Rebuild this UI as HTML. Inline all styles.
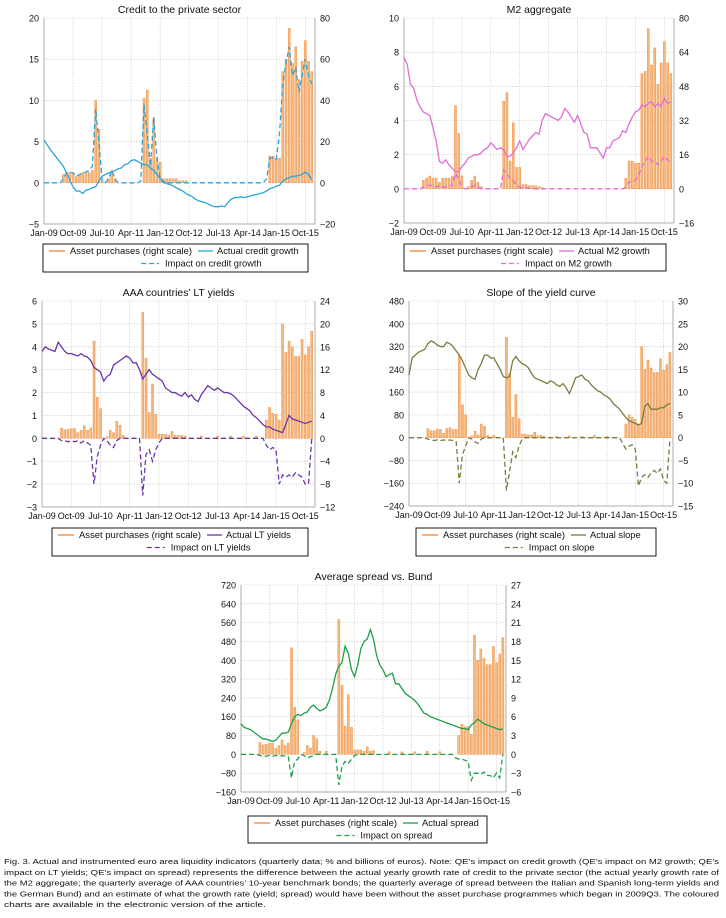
<!DOCTYPE html>
<html><head><meta charset="utf-8"><style>
html,body{margin:0;padding:0;background:#fff;}
svg{display:block;font-family:"Liberation Sans",sans-serif;}
</style></head><body>
<svg id="fig" width="726" height="918" viewBox="0 0 726 918" xmlns="http://www.w3.org/2000/svg"></svg>
<script>
// ---- data (monthly, Jan-09 .. Dec-15) ----
const monthLabels = ["Jan-09","Oct-09","Jul-10","Apr-11","Jan-12","Oct-12","Jul-13","Apr-14","Jan-15","Oct-15"];
const labelIdx = [0,9,18,27,36,45,54,63,72,81];

const creditBars = [0,0,0,0,0,0,4,5,5,5, 3,4,5,5,5,6,40,26,1,0, 2,6,2,0,0,0,0,0,0,0, 0,41,45,12,31,12,10,2,2,2, 2,2,1,1,1,0,0,0,0,0, 0,0,0,0,0,0,0,0,0,0, 0,0,0,0,0,0,0,0,0,0, 13,13,12,12,54,60,75,58,66,50, 59,69,59,54];
const creditActual = [5.2,4.6,4.0,3.5,3.0,2.5,2.0,1.2,0.3,-0.5, -1.0,-1.0,-1.3,-0.9,-0.8,-0.6,-0.5,0.2,0.8,1.0, 1.2,1.3,1.5,1.7,1.8,2.2,2.3,2.7,2.8,2.6, 2.4,2.2,2.2,1.8,1.5,1.0,0.5,0.2,-0.1,-0.2, -0.4,-0.6,-0.8,-1.0,-1.3,-1.5,-1.7,-2.0,-2.2,-2.3, -2.4,-2.6,-2.8,-2.9,-2.9,-2.8,-2.9,-2.4,-2.0,-1.8, -1.8,-1.7,-1.8,-1.7,-1.6,-1.5,-1.4,-1.3,-1.2,-1.0, -0.7,-0.6,-0.4,-0.3,0.2,0.5,0.6,0.8,0.8,0.9, 1.0,1.3,1.0,0.4];
const creditImpact = [0,0,0,0,0,0,0.5,1.2,1.3,1.2, 0.8,1.0,1.2,1.3,1.5,2.0,9.0,5.0,0.3,0, 0.5,1.5,0.5,0,0,0,0,0,0,0, 0.2,9.5,6.0,2.0,8.0,3.0,0.5,0,0,0, 0,0,0,0,0,0,0,0,0,0, 0,0,0,0,0,0,0,0,0,0, 0,0,0,0,0,0,0,0,0,0.5, 3.0,3.0,2.8,6.0,12,14.5,16.5,13,14,11, 13,15,13,12];

const m2Bars = [0,0,0,0,0,0,4,5,6,5, 5,3,5,5,5,6,39,26,6,0, 1,4,6,3,1,0,0,0,0,0, 0,41,45,13,31,10,10,2,2,1.5, 1.5,1.5,1,0.5,0,0,0,0,0,0, 0,0,0,0,0,0,0,0,0,0, 0,0,0,0,0,0,0,0,0,5, 13,13,12,12,54,55,75,58,66,49, 59,69,59,54];
const m2Actual = [7.7,7.3,6.1,5.9,5.2,4.8,4.5,4.4,4.3,3.6, 2.8,1.6,1.5,1.7,1.4,1.2,1.0,1.0,1.3,1.5, 1.8,1.9,2.0,2.0,2.1,2.3,2.4,2.7,2.5,2.3, 2.4,2.3,1.9,1.9,2.1,2.4,2.8,2.3,2.6,2.9, 3.1,3.3,3.2,4.0,4.4,4.3,4.2,4.1,4.0,4.2, 4.7,4.5,4.2,3.9,4.3,3.8,3.3,3.2,2.4,2.4, 2.4,2.1,1.8,2.4,2.4,2.8,2.9,3.0,3.4,3.3, 3.8,4.2,4.5,4.6,4.9,4.8,5.0,5.1,4.8,5.0, 4.8,5.3,5.0,5.1];
const m2Impact = [0,0,0,0,0,0,0.1,0.2,0.2,0.2, 0.1,0.2,0.1,0.1,0.2,0.2,0.9,0.6,0.1,0, 0,0.1,0.2,0.1,0,0,0,0,0,0, 0,1.1,0.9,0.6,0.5,0.2,0.1,0.05,0.05,0.05, 0,0,0,0,0,0,0,0,0,0, 0,0,0,0,0,0,0,0,0,0, 0,0,0,0,0,0,0,0,0,0.1, 0.4,0.4,0.5,0.8,1.3,1.6,1.9,1.6,1.6,1.4, 1.6,1.9,1.7,1.5];

const aaaBars = [0,0,0,0,0,0,1.8,1.5,1.6,1.7, 1.7,1,1.4,2.2,1.4,1.8,17,7.2,5.2,0, 0.3,1.4,1,3,2.3,0.5,0,0,0,0, 0,22,14,4.5,9.5,4.2,0.7,0.7,0.7,0.5, 1.2,0.5,0.5,0.5,0.4,0,0,0,0,0.4, 0,0,0,0,0.4,0,0,0,0.4,0, 0,0,0.4,0,0,0,0.4,0,0,3.2, 5.4,4.4,4.2,3.2,20,15,17,16,14.3,14.3, 17.3,14.6,16,18.7];
const aaaActual = [3.8,4.0,3.9,3.85,3.8,4.2,4.0,3.8,3.7,3.7, 3.65,3.6,3.7,3.6,3.55,3.4,3.1,3.0,2.9,2.5, 2.7,2.8,3.2,3.3,3.4,3.5,3.6,3.5,3.3,3.3, 3.0,2.6,2.8,3.0,2.8,2.7,2.6,2.5,2.2,2.1, 2.0,2.0,1.9,1.85,2.0,1.8,1.9,1.7,1.6,1.9, 2.1,2.3,2.2,2.1,2.2,2.1,2.0,2.0,1.95,1.85, 1.7,1.55,1.4,1.3,1.2,1.0,0.9,0.75,0.6,0.5, 0.5,0.4,0.35,0.3,0.25,0.6,1.0,0.85,0.8,0.75, 0.7,0.65,0.7,0.75];
const aaaImpact = [0,0,0,0,0,0,-0.1,-0.1,-0.15,-0.1, -0.15,-0.1,-0.2,-0.1,-0.2,-0.3,-2.0,-0.8,-0.3,0, -0.1,-0.3,-0.4,-0.1,0,0,0,0,0,0, 0,-2.5,-0.7,-0.5,-1.0,-0.5,-0.2,0,0,0, 0,0,0,0,0,0,0,0,0,0, 0,0,0,0,0,0,0,0,0,0, 0,0,0,0,0,0,0,0,0,-0.3, -0.5,-0.4,-0.5,-2.0,-1.6,-1.7,-1.6,-1.7,-1.5,-1.6, -1.7,-2.0,-2.0,0];

const slopeBars = [0,0,0,0,0,0,2,1.5,1.5,1.8, 1.8,1,2,2.2,1.8,1.8,18,7.2,5,0, 0.4,1.4,0.6,3,2.5,0.5,0,0.5,0,0, 0,22,14,4.5,9.5,4.2,0.8,0.8,0.6,0.6, 1.2,0.4,0.5,0.3,0,0,0,0.3,0,0, 0,0.4,0,0,0,0.3,0,0,0,0.5, 0,0,0,0.3,0,0,0,0,0,3, 5,4.5,4,3,20,15,17,15.3,14.3,14.3, 17.3,14.8,16,18.7];
const slopeActual = [220,280,290,300,305,310,330,340,335,325, 320,320,335,330,320,305,290,270,245,220, 210,205,240,260,290,290,280,280,260,240, 215,210,215,270,285,270,260,255,245,225, 210,205,200,195,190,200,195,185,180,190, 175,155,180,210,215,220,205,200,185,175, 165,160,150,145,135,120,110,100,85,70, 60,55,50,45,50,110,120,100,100,100, 105,105,115,120];
const slopeImpact = [0,0,0,0,0,0,-5,-8,-10,-8, -10,-8,-10,-8,-10,-12,-160,-60,-30,0, -5,-15,-20,-5,0,0,0,0,0,0, 0,-185,-120,-50,-70,-30,-5,0,0,0, 0,0,0,0,0,0,0,0,0,0, 0,0,0,0,0,0,0,0,0,0, 0,0,0,0,0,0,0,0,-20,-40, -30,-25,-40,-170,-140,-130,-140,-125,-115,-125, -110,-150,-160,-10];

const spreadBars = [0,0,0,0,0,0,1.9,1.5,1.6,1.8, 1.8,1,1.4,2.3,1.4,1.8,17,7.5,5.5,0, 0.3,1.4,1,3,2.5,0.5,0,0.5,0,0, 0,21.5,11,4.5,9.5,4.3,0.7,0.7,0.7,0.5, 1.2,0.5,0.6,0,0,0,0,0.4,0,0, 0,0.4,0,0,0,0.4,0,0,0,0.5, 0,0,0,0.4,0,0,0,0,0,3, 4.8,4.4,4.4,3.2,19,15,16.8,15.3,14.3,14.3, 17.2,14.6,16,18.6];
const spreadActual = [130,115,110,105,95,85,75,65,65,60, 55,60,75,90,90,95,130,160,170,165, 175,180,200,210,195,185,190,200,230,280, 340,375,390,460,430,360,330,380,450,480, 490,530,490,420,380,360,330,340,345,300, 300,280,260,250,240,230,215,195,175,170, 160,155,150,145,140,135,130,125,120,115, 110,110,105,125,135,150,140,130,125,120, 115,110,105,108];
const spreadImpact = [0,0,0,0,0,0,-5,-8,-8,-5, -8,-5,-8,-5,-8,-10,-100,-30,-20,0, -5,-15,-10,-5,0,0,0,0,0,0, 0,-130,-50,-30,-40,-20,-5,0,0,0, 0,0,0,0,0,0,0,0,0,0, 0,0,0,0,0,0,0,0,0,0, 0,0,0,0,0,0,0,0,-15,-20, -20,-25,-30,-110,-80,-80,-85,-75,-90,-90, -100,-80,-100,0];

const NS = "http://www.w3.org/2000/svg";
const svg = document.getElementById("fig");
function mk(tag, attrs, parent, txt){
  const e = document.createElementNS(NS, tag);
  for (const k in attrs) e.setAttribute(k, attrs[k]);
  if (txt !== undefined) e.textContent = txt;
  (parent || svg).appendChild(e);
  return e;
}

function panel(c){
  const g = mk("g", {});
  
  
  const N = 84;
  const xs = i => c.l + i * (c.r - c.l) / N;
  const yl = v => c.b - (v - c.lmin) / (c.lmax - c.lmin) * (c.b - c.t);
  const yr = v => c.b - (v - c.rmin) / (c.rmax - c.rmin) * (c.b - c.t);
  const tt = mk("text", {x:(c.l+c.r)/2, y:c.t-5, "text-anchor":"middle", "font-size":"10.5", fill:"#111"}, g, c.title);
  
  
  for (let v = c.lmin; v <= c.lmax + 1e-9; v += c.lstep){
    const y = yl(v);
    mk("line", {x1:c.l, x2:c.r, y1:y, y2:y, stroke:"#bbb", "stroke-width":"0.6", "stroke-dasharray":"1.2,1.5"}, g);
    const t = mk("text", {x:c.l-5, y:y+3.5, "text-anchor":"end", "font-size":"9", fill:"#111"}, g, v < 0 ? "\u2212" + Math.abs(v) : String(v));
    
    
  }
  for (let v = c.rmin; v <= c.rmax + 1e-9; v += c.rstep){
    const y = yr(v);
    const t = mk("text", {x:c.r+5, y:y+3.5, "text-anchor":"start", "font-size":"9", fill:"#111"}, g, v < 0 ? "\u2212" + Math.abs(v) : String(v));
    
    
  }
  labelIdx.forEach((mi, k) => {
    const x = xs(mi);
    if (mi > 0) mk("line", {x1:x, x2:x, y1:c.t, y2:c.b, stroke:"#bbb", "stroke-width":"0.6", "stroke-dasharray":"1.2,1.5"}, g);
    const t = mk("text", {x:x, y:c.b+12, "text-anchor":"middle", "font-size":"9", fill:"#111"}, g, monthLabels[k]);
    
    
  });
  mk("line", {x1:c.l, x2:c.l, y1:c.t, y2:c.b, stroke:"#999", "stroke-width":"0.8"}, g);
  mk("line", {x1:c.r, x2:c.r, y1:c.t, y2:c.b, stroke:"#999", "stroke-width":"0.8"}, g);
  mk("line", {x1:c.l, x2:c.r, y1:c.b, y2:c.b, stroke:"#999", "stroke-width":"0.8"}, g);
  const y0 = yr(0);
  c.bars.forEach((v, i) => {
    if (!v) return;
    const y = yr(v);
    const r = mk("rect", {x:xs(i)-1, y:Math.min(y,y0), width:2.1, height:Math.max(Math.abs(y0-y),0.5), fill:"#f6b77c", stroke:"#ec8a3c", "stroke-width":"0.4"}, g);
    
    
  });
  const path = arr => arr.map((v,i)=>(i?"L":"M")+xs(i).toFixed(2)+","+yl(v).toFixed(2)).join("");
  const imp = mk("path", {d:path(c.impact), fill:"none", stroke:c.color, "stroke-width":"1.3", "stroke-dasharray":"5,3"}, g);
  
  
  const act = mk("path", {d:path(c.actual), fill:"none", stroke:c.color, "stroke-width":"1.3"}, g);
  
  
  // legend
  const L = c.leg;
  const lg = mk("g", {}, g);
  
  
  mk("rect", {x:L.x, y:L.y, width:L.w, height:L.h, fill:"#fff", stroke:"#000", "stroke-width":"0.9"}, lg);
  const w = L.w, r1 = L.y + 10, r2 = L.y + 22.5;
  const t1w = 122;
  const x1 = L.x + 6;
  mk("line", {x1:x1, x2:x1+16, y1:r1-3, y2:r1-3, stroke:"#ec8a3c", "stroke-width":"1.3"}, lg);
  mk("text", {x:x1+21, y:r1, "font-size":"9.3", fill:"#111", textLength:t1w, lengthAdjust:"spacingAndGlyphs"}, lg, "Asset purchases (right scale)");
  const x2 = x1 + 21 + t1w + 6;
  mk("line", {x1:x2, x2:x2+15, y1:r1-3, y2:r1-3, stroke:c.color, "stroke-width":"1.3"}, lg);
  mk("text", {x:x2+19, y:r1, "font-size":"9.3", fill:"#111"}, lg, c.actName);
  const x3 = L.x + L.w*0.37;
  mk("line", {x1:x3, x2:x3+18, y1:r2-3, y2:r2-3, stroke:c.color, "stroke-width":"1.3", "stroke-dasharray":"5,3"}, lg);
  mk("text", {x:x3+24, y:r2, "font-size":"9.3", fill:"#111"}, lg, c.impName);
}

panel({name:"credit-panel", title:"Credit to the private sector", l:44, r:315, t:18, b:224,
  lmin:-5, lmax:20, lstep:5, rmin:-20, rmax:80, rstep:20,
  bars:creditBars, actual:creditActual, impact:creditImpact, color:"#2aa6dc",
  actName:"Actual credit growth", impName:"Impact on credit growth",
  leg:{x:43, y:244, w:265, h:28}});
panel({name:"m2-panel", title:"M2 aggregate", l:404, r:674, t:18, b:223,
  lmin:-2, lmax:10, lstep:2, rmin:-16, rmax:80, rstep:16,
  bars:m2Bars, actual:m2Actual, impact:m2Impact, color:"#e06ed6",
  actName:"Actual M2 growth", impName:"Impact on M2 growth",
  leg:{x:404, y:244, w:262, h:27}});
panel({name:"aaa-yields-panel", title:"AAA countries\u2019 LT yields", l:42, r:315, t:301, b:507,
  lmin:-3, lmax:6, lstep:1, rmin:-12, rmax:24, rstep:4,
  bars:aaaBars, actual:aaaActual, impact:aaaImpact, color:"#6a36a8",
  actName:"Actual LT yields", impName:"Impact on LT yields",
  leg:{x:52, y:528, w:256, h:28}});
panel({name:"slope-panel", title:"Slope of the yield curve", l:409, r:673, t:301, b:506,
  lmin:-240, lmax:480, lstep:80, rmin:-15, rmax:30, rstep:5,
  bars:slopeBars, actual:slopeActual, impact:slopeImpact, color:"#7c7a42",
  actName:"Actual slope", impName:"Impact on slope",
  leg:{x:416, y:528, w:240, h:28}});
panel({name:"spread-panel", title:"Average spread vs. Bund", l:241, r:506, t:585, b:792,
  lmin:-160, lmax:720, lstep:80, rmin:-6, rmax:27, rstep:3,
  bars:spreadBars, actual:spreadActual, impact:spreadImpact, color:"#1f9e4a",
  actName:"Actual spread", impName:"Impact on spread",
  leg:{x:248, y:816, w:239, h:27}});

const cap = [
 "Fig. 3. Actual and instrumented euro area liquidity indicators (quarterly data; % and billions of euros). Note: QE\u2019s impact on credit growth (QE\u2019s impact on M2 growth; QE\u2019s",
 "impact on LT yields; QE\u2019s impact on spread) represents the difference between the actual yearly growth rate of credit to the private sector (the actual yearly growth rate of",
 "the M2 aggregate; the quarterly average of AAA countries\u2019 10-year benchmark bonds; the quarterly average of spread between the Italian and Spanish long-term yields and",
 "the German Bund) and an estimate of what the growth rate (yield; spread) would have been without the asset purchase programmes which began in 2009Q3. The coloured",
 "charts are available in the electronic version of the article."
];
const cg = mk("g", {});


cap.forEach((s, i) => {
  const a = {x:4, y:864 + i*10.8, "font-size":"7.6", fill:"#111"};
  if (i < 4) { a.textLength = 715; a.lengthAdjust = "spacingAndGlyphs"; }
  else { a.textLength = 262; a.lengthAdjust = "spacingAndGlyphs"; }
  mk("text", a, cg, s);
});
</script>
</body></html>
